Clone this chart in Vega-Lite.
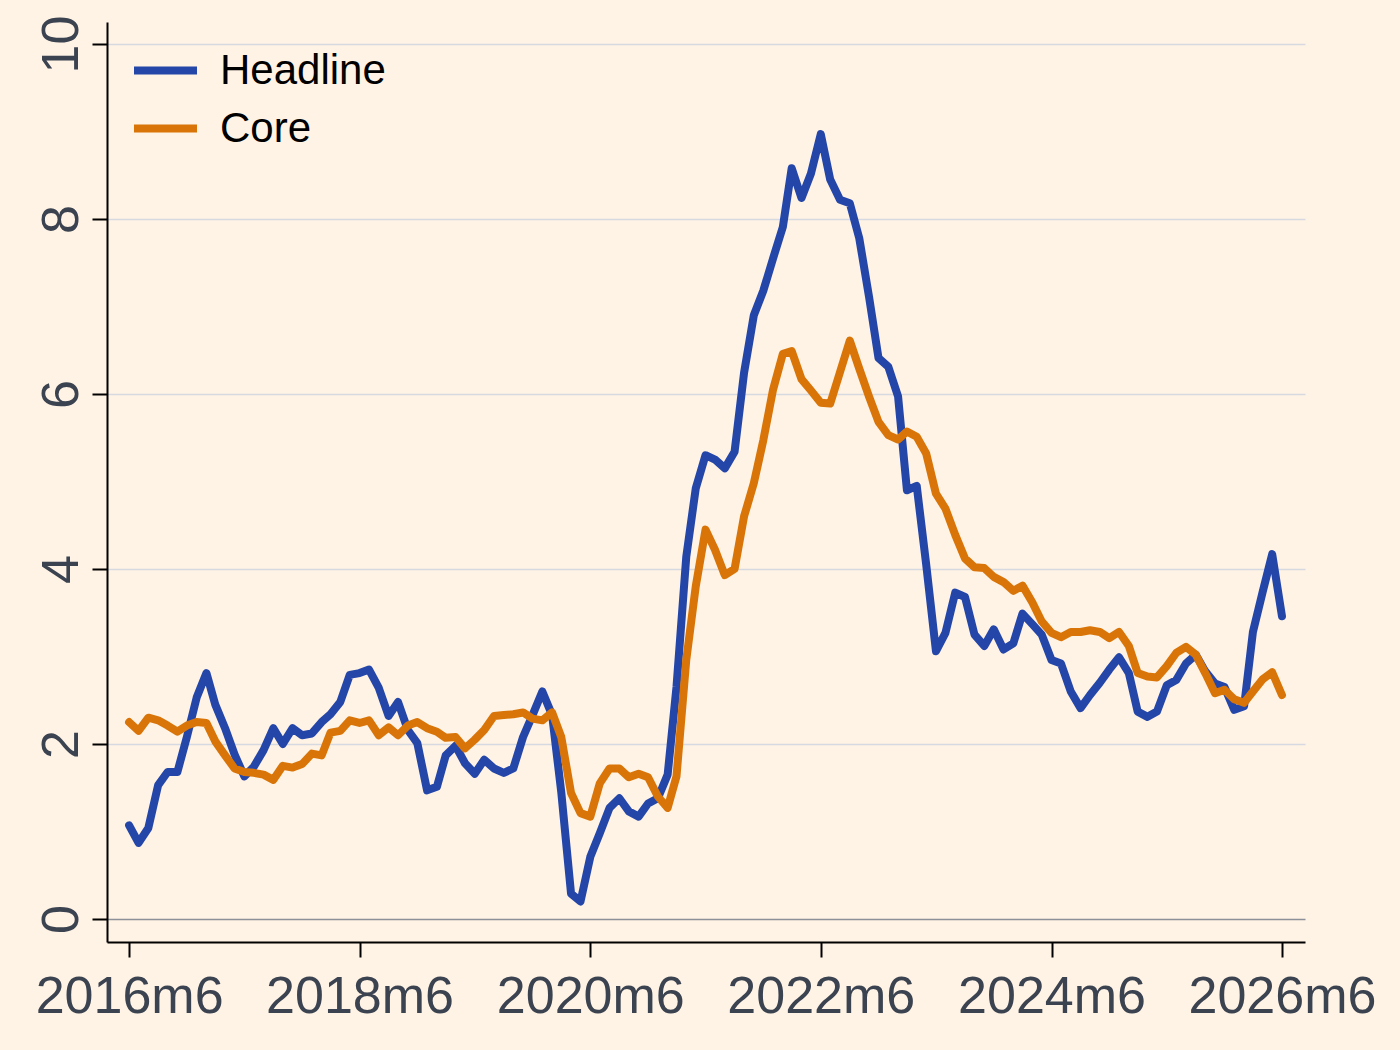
{
  "$schema": "https://vega.github.io/schema/vega-lite/v6.json",
  "width": 1198,
  "height": 920,
  "autosize": {"type": "none"},
  "padding": {"left": 107, "top": 22, "right": 95, "bottom": 108},
  "background": "#fff3e5",
  "config": {"view": {"stroke": null}, "font": "Liberation Sans"},
  "data": {"values": [
    {"month":"2016-06","series":"Headline","value":1.07},
    {"month":"2016-07","series":"Headline","value":0.87},
    {"month":"2016-08","series":"Headline","value":1.04},
    {"month":"2016-09","series":"Headline","value":1.53},
    {"month":"2016-10","series":"Headline","value":1.68},
    {"month":"2016-11","series":"Headline","value":1.68},
    {"month":"2016-12","series":"Headline","value":2.08},
    {"month":"2017-01","series":"Headline","value":2.53},
    {"month":"2017-02","series":"Headline","value":2.81},
    {"month":"2017-03","series":"Headline","value":2.45},
    {"month":"2017-04","series":"Headline","value":2.18},
    {"month":"2017-05","series":"Headline","value":1.88},
    {"month":"2017-06","series":"Headline","value":1.63},
    {"month":"2017-07","series":"Headline","value":1.74},
    {"month":"2017-08","series":"Headline","value":1.93},
    {"month":"2017-09","series":"Headline","value":2.18},
    {"month":"2017-10","series":"Headline","value":2.00},
    {"month":"2017-11","series":"Headline","value":2.18},
    {"month":"2017-12","series":"Headline","value":2.10},
    {"month":"2018-01","series":"Headline","value":2.12},
    {"month":"2018-02","series":"Headline","value":2.25},
    {"month":"2018-03","series":"Headline","value":2.34},
    {"month":"2018-04","series":"Headline","value":2.48},
    {"month":"2018-05","series":"Headline","value":2.79},
    {"month":"2018-06","series":"Headline","value":2.81},
    {"month":"2018-07","series":"Headline","value":2.85},
    {"month":"2018-08","series":"Headline","value":2.64},
    {"month":"2018-09","series":"Headline","value":2.32},
    {"month":"2018-10","series":"Headline","value":2.48},
    {"month":"2018-11","series":"Headline","value":2.16},
    {"month":"2018-12","series":"Headline","value":2.01},
    {"month":"2019-01","series":"Headline","value":1.47},
    {"month":"2019-02","series":"Headline","value":1.51},
    {"month":"2019-03","series":"Headline","value":1.87},
    {"month":"2019-04","series":"Headline","value":1.98},
    {"month":"2019-05","series":"Headline","value":1.78},
    {"month":"2019-06","series":"Headline","value":1.66},
    {"month":"2019-07","series":"Headline","value":1.82},
    {"month":"2019-08","series":"Headline","value":1.72},
    {"month":"2019-09","series":"Headline","value":1.67},
    {"month":"2019-10","series":"Headline","value":1.72},
    {"month":"2019-11","series":"Headline","value":2.08},
    {"month":"2019-12","series":"Headline","value":2.33},
    {"month":"2020-01","series":"Headline","value":2.60},
    {"month":"2020-02","series":"Headline","value":2.33},
    {"month":"2020-03","series":"Headline","value":1.45},
    {"month":"2020-04","series":"Headline","value":0.29},
    {"month":"2020-05","series":"Headline","value":0.20},
    {"month":"2020-06","series":"Headline","value":0.71},
    {"month":"2020-07","series":"Headline","value":0.98},
    {"month":"2020-08","series":"Headline","value":1.27},
    {"month":"2020-09","series":"Headline","value":1.38},
    {"month":"2020-10","series":"Headline","value":1.23},
    {"month":"2020-11","series":"Headline","value":1.17},
    {"month":"2020-12","series":"Headline","value":1.32},
    {"month":"2021-01","series":"Headline","value":1.38},
    {"month":"2021-02","series":"Headline","value":1.65},
    {"month":"2021-03","series":"Headline","value":2.65},
    {"month":"2021-04","series":"Headline","value":4.14},
    {"month":"2021-05","series":"Headline","value":4.92},
    {"month":"2021-06","series":"Headline","value":5.30},
    {"month":"2021-07","series":"Headline","value":5.25},
    {"month":"2021-08","series":"Headline","value":5.15},
    {"month":"2021-09","series":"Headline","value":5.34},
    {"month":"2021-10","series":"Headline","value":6.24},
    {"month":"2021-11","series":"Headline","value":6.90},
    {"month":"2021-12","series":"Headline","value":7.18},
    {"month":"2022-01","series":"Headline","value":7.55},
    {"month":"2022-02","series":"Headline","value":7.91},
    {"month":"2022-03","series":"Headline","value":8.58},
    {"month":"2022-04","series":"Headline","value":8.24},
    {"month":"2022-05","series":"Headline","value":8.52},
    {"month":"2022-06","series":"Headline","value":8.97},
    {"month":"2022-07","series":"Headline","value":8.45},
    {"month":"2022-08","series":"Headline","value":8.22},
    {"month":"2022-09","series":"Headline","value":8.18},
    {"month":"2022-10","series":"Headline","value":7.78},
    {"month":"2022-11","series":"Headline","value":7.11},
    {"month":"2022-12","series":"Headline","value":6.41},
    {"month":"2023-01","series":"Headline","value":6.31},
    {"month":"2023-02","series":"Headline","value":5.97},
    {"month":"2023-03","series":"Headline","value":4.90},
    {"month":"2023-04","series":"Headline","value":4.95},
    {"month":"2023-05","series":"Headline","value":4.05},
    {"month":"2023-06","series":"Headline","value":3.06},
    {"month":"2023-07","series":"Headline","value":3.27},
    {"month":"2023-08","series":"Headline","value":3.73},
    {"month":"2023-09","series":"Headline","value":3.68},
    {"month":"2023-10","series":"Headline","value":3.25},
    {"month":"2023-11","series":"Headline","value":3.12},
    {"month":"2023-12","series":"Headline","value":3.31},
    {"month":"2024-01","series":"Headline","value":3.08},
    {"month":"2024-02","series":"Headline","value":3.15},
    {"month":"2024-03","series":"Headline","value":3.49},
    {"month":"2024-04","series":"Headline","value":3.37},
    {"month":"2024-05","series":"Headline","value":3.25},
    {"month":"2024-06","series":"Headline","value":2.96},
    {"month":"2024-07","series":"Headline","value":2.92},
    {"month":"2024-08","series":"Headline","value":2.60},
    {"month":"2024-09","series":"Headline","value":2.41},
    {"month":"2024-10","series":"Headline","value":2.56},
    {"month":"2024-11","series":"Headline","value":2.70},
    {"month":"2024-12","series":"Headline","value":2.85},
    {"month":"2025-01","series":"Headline","value":2.99},
    {"month":"2025-02","series":"Headline","value":2.81},
    {"month":"2025-03","series":"Headline","value":2.37},
    {"month":"2025-04","series":"Headline","value":2.31},
    {"month":"2025-05","series":"Headline","value":2.37},
    {"month":"2025-06","series":"Headline","value":2.67},
    {"month":"2025-07","series":"Headline","value":2.73},
    {"month":"2025-08","series":"Headline","value":2.92},
    {"month":"2025-09","series":"Headline","value":3.02},
    {"month":"2025-10","series":"Headline","value":2.83},
    {"month":"2025-11","series":"Headline","value":2.69},
    {"month":"2025-12","series":"Headline","value":2.65},
    {"month":"2026-01","series":"Headline","value":2.39},
    {"month":"2026-02","series":"Headline","value":2.43},
    {"month":"2026-03","series":"Headline","value":3.28},
    {"month":"2026-04","series":"Headline","value":3.74},
    {"month":"2026-05","series":"Headline","value":4.17},
    {"month":"2026-06","series":"Headline","value":3.46},
    {"month":"2016-06","series":"Core","value":2.25},
    {"month":"2016-07","series":"Core","value":2.15},
    {"month":"2016-08","series":"Core","value":2.30},
    {"month":"2016-09","series":"Core","value":2.27},
    {"month":"2016-10","series":"Core","value":2.21},
    {"month":"2016-11","series":"Core","value":2.14},
    {"month":"2016-12","series":"Core","value":2.21},
    {"month":"2017-01","series":"Core","value":2.25},
    {"month":"2017-02","series":"Core","value":2.24},
    {"month":"2017-03","series":"Core","value":2.03},
    {"month":"2017-04","series":"Core","value":1.87},
    {"month":"2017-05","series":"Core","value":1.72},
    {"month":"2017-06","series":"Core","value":1.68},
    {"month":"2017-07","series":"Core","value":1.67},
    {"month":"2017-08","series":"Core","value":1.65},
    {"month":"2017-09","series":"Core","value":1.59},
    {"month":"2017-10","series":"Core","value":1.75},
    {"month":"2017-11","series":"Core","value":1.73},
    {"month":"2017-12","series":"Core","value":1.77},
    {"month":"2018-01","series":"Core","value":1.89},
    {"month":"2018-02","series":"Core","value":1.87},
    {"month":"2018-03","series":"Core","value":2.13},
    {"month":"2018-04","series":"Core","value":2.15},
    {"month":"2018-05","series":"Core","value":2.27},
    {"month":"2018-06","series":"Core","value":2.24},
    {"month":"2018-07","series":"Core","value":2.27},
    {"month":"2018-08","series":"Core","value":2.10},
    {"month":"2018-09","series":"Core","value":2.19},
    {"month":"2018-10","series":"Core","value":2.10},
    {"month":"2018-11","series":"Core","value":2.21},
    {"month":"2018-12","series":"Core","value":2.25},
    {"month":"2019-01","series":"Core","value":2.18},
    {"month":"2019-02","series":"Core","value":2.14},
    {"month":"2019-03","series":"Core","value":2.07},
    {"month":"2019-04","series":"Core","value":2.08},
    {"month":"2019-05","series":"Core","value":1.95},
    {"month":"2019-06","series":"Core","value":2.05},
    {"month":"2019-07","series":"Core","value":2.16},
    {"month":"2019-08","series":"Core","value":2.32},
    {"month":"2019-09","series":"Core","value":2.33},
    {"month":"2019-10","series":"Core","value":2.34},
    {"month":"2019-11","series":"Core","value":2.36},
    {"month":"2019-12","series":"Core","value":2.29},
    {"month":"2020-01","series":"Core","value":2.27},
    {"month":"2020-02","series":"Core","value":2.36},
    {"month":"2020-03","series":"Core","value":2.08},
    {"month":"2020-04","series":"Core","value":1.44},
    {"month":"2020-05","series":"Core","value":1.21},
    {"month":"2020-06","series":"Core","value":1.17},
    {"month":"2020-07","series":"Core","value":1.55},
    {"month":"2020-08","series":"Core","value":1.72},
    {"month":"2020-09","series":"Core","value":1.72},
    {"month":"2020-10","series":"Core","value":1.62},
    {"month":"2020-11","series":"Core","value":1.66},
    {"month":"2020-12","series":"Core","value":1.62},
    {"month":"2021-01","series":"Core","value":1.40},
    {"month":"2021-02","series":"Core","value":1.27},
    {"month":"2021-03","series":"Core","value":1.63},
    {"month":"2021-04","series":"Core","value":2.96},
    {"month":"2021-05","series":"Core","value":3.80},
    {"month":"2021-06","series":"Core","value":4.45},
    {"month":"2021-07","series":"Core","value":4.22},
    {"month":"2021-08","series":"Core","value":3.93},
    {"month":"2021-09","series":"Core","value":4.00},
    {"month":"2021-10","series":"Core","value":4.60},
    {"month":"2021-11","series":"Core","value":4.98},
    {"month":"2021-12","series":"Core","value":5.47},
    {"month":"2022-01","series":"Core","value":6.05},
    {"month":"2022-02","series":"Core","value":6.46},
    {"month":"2022-03","series":"Core","value":6.49},
    {"month":"2022-04","series":"Core","value":6.17},
    {"month":"2022-05","series":"Core","value":6.04},
    {"month":"2022-06","series":"Core","value":5.90},
    {"month":"2022-07","series":"Core","value":5.89},
    {"month":"2022-08","series":"Core","value":6.25},
    {"month":"2022-09","series":"Core","value":6.61},
    {"month":"2022-10","series":"Core","value":6.29},
    {"month":"2022-11","series":"Core","value":5.97},
    {"month":"2022-12","series":"Core","value":5.68},
    {"month":"2023-01","series":"Core","value":5.53},
    {"month":"2023-02","series":"Core","value":5.48},
    {"month":"2023-03","series":"Core","value":5.57},
    {"month":"2023-04","series":"Core","value":5.51},
    {"month":"2023-05","series":"Core","value":5.32},
    {"month":"2023-06","series":"Core","value":4.86},
    {"month":"2023-07","series":"Core","value":4.69},
    {"month":"2023-08","series":"Core","value":4.39},
    {"month":"2023-09","series":"Core","value":4.12},
    {"month":"2023-10","series":"Core","value":4.02},
    {"month":"2023-11","series":"Core","value":4.01},
    {"month":"2023-12","series":"Core","value":3.91},
    {"month":"2024-01","series":"Core","value":3.85},
    {"month":"2024-02","series":"Core","value":3.75},
    {"month":"2024-03","series":"Core","value":3.81},
    {"month":"2024-04","series":"Core","value":3.62},
    {"month":"2024-05","series":"Core","value":3.40},
    {"month":"2024-06","series":"Core","value":3.27},
    {"month":"2024-07","series":"Core","value":3.22},
    {"month":"2024-08","series":"Core","value":3.28},
    {"month":"2024-09","series":"Core","value":3.28},
    {"month":"2024-10","series":"Core","value":3.30},
    {"month":"2024-11","series":"Core","value":3.28},
    {"month":"2024-12","series":"Core","value":3.21},
    {"month":"2025-01","series":"Core","value":3.28},
    {"month":"2025-02","series":"Core","value":3.12},
    {"month":"2025-03","series":"Core","value":2.81},
    {"month":"2025-04","series":"Core","value":2.77},
    {"month":"2025-05","series":"Core","value":2.76},
    {"month":"2025-06","series":"Core","value":2.89},
    {"month":"2025-07","series":"Core","value":3.04},
    {"month":"2025-08","series":"Core","value":3.11},
    {"month":"2025-09","series":"Core","value":3.02},
    {"month":"2025-10","series":"Core","value":2.81},
    {"month":"2025-11","series":"Core","value":2.58},
    {"month":"2025-12","series":"Core","value":2.62},
    {"month":"2026-01","series":"Core","value":2.51},
    {"month":"2026-02","series":"Core","value":2.47},
    {"month":"2026-03","series":"Core","value":2.60},
    {"month":"2026-04","series":"Core","value":2.74},
    {"month":"2026-05","series":"Core","value":2.82},
    {"month":"2026-06","series":"Core","value":2.56}
  ]},
  "mark": {"type": "line", "strokeWidth": 8, "strokeJoin": "round", "strokeCap": "round"},
  "encoding": {
    "x": {
      "field": "month",
      "type": "temporal",
      "scale": {
        "type": "utc",
        "domain": [
          {"year": 2016, "month": 3, "date": 23, "utc": true},
          {"year": 2026, "month": 8, "date": 13, "utc": true}
        ]
      },
      "axis": {
        "title": null,
        "grid": false,
        "values": [
          {"year": 2016, "month": 6, "date": 1, "utc": true},
          {"year": 2018, "month": 6, "date": 1, "utc": true},
          {"year": 2020, "month": 6, "date": 1, "utc": true},
          {"year": 2022, "month": 6, "date": 1, "utc": true},
          {"year": 2024, "month": 6, "date": 1, "utc": true},
          {"year": 2026, "month": 6, "date": 1, "utc": true}
        ],
        "labelExpr": "utcyear(datum.value) + 'm' + (utcmonth(datum.value) + 1)",
        "domainColor": "#000000",
        "domainWidth": 2,
        "tickColor": "#000000",
        "tickWidth": 2,
        "tickSize": 15,
        "labelFontSize": 52,
        "labelFont": "Liberation Sans",
        "labelColor": "#3c4350",
        "labelPadding": 14,
        "labelLimit": 0,
        "labelOverlap": false,
        "labelFlush": false
      }
    },
    "y": {
      "field": "value",
      "type": "quantitative",
      "scale": {"domain": [-0.263, 10.251], "nice": false, "zero": false},
      "axis": {
        "title": null,
        "values": [0, 2, 4, 6, 8, 10],
        "format": "d",
        "grid": true,
        "gridColor": {"condition": {"test": "datum.value === 0", "value": "#8c9099"}, "value": "#d6d9df"},
        "gridWidth": 1.5,
        "domainColor": "#000000",
        "domainWidth": 2,
        "tickColor": "#000000",
        "tickWidth": 2,
        "tickSize": 15,
        "labelAngle": -90,
        "labelAlign": "center",
        "labelBaseline": "alphabetic",
        "labelPadding": 15,
        "labelLimit": 0,
        "labelFontSize": 52,
        "labelFont": "Liberation Sans",
        "labelColor": "#3c4350"
      }
    },
    "color": {
      "field": "series",
      "type": "nominal",
      "scale": {"domain": ["Headline", "Core"], "range": ["#2446a8", "#d97508"]},
      "legend": {
        "title": null,
        "orient": "none",
        "legendX": 23,
        "legendY": 13,
        "padding": 0,
        "symbolType": "stroke",
        "symbolSize": 3969,
        "symbolStrokeWidth": 8,
        "labelFontSize": 42,
        "labelFont": "Liberation Sans",
        "labelColor": "#000000",
        "labelOffset": 19,
        "labelLimit": 0,
        "rowPadding": 1
      }
    }
  }
}
